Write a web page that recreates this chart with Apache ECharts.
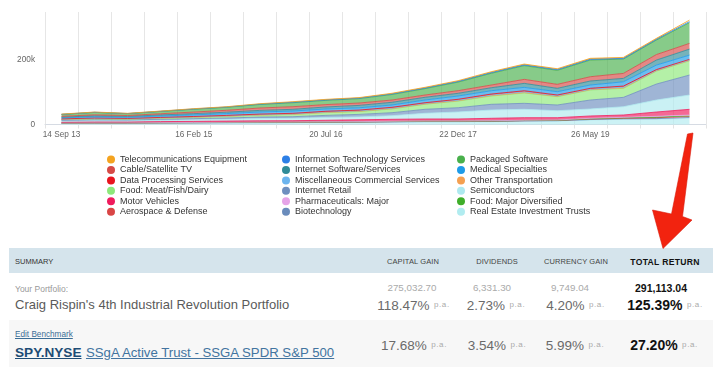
<!DOCTYPE html>
<html>
<head>
<meta charset="utf-8">
<script src="https://cdn.jsdelivr.net/npm/echarts@6/dist/echarts.min.js"></script>
<style>
  html, body { margin:0; padding:0; background:#fff; }
  body { width:720px; height:386px; position:relative; overflow:hidden;
         font-family:"Liberation Sans", Arial, Helvetica, sans-serif; }
  #chart { position:absolute; left:0; top:0; width:720px; height:386px; z-index:2; pointer-events:none; }
  .t { position:absolute; height:20px; line-height:20px; white-space:nowrap; }
  .c { text-align:center; width:120px; }
  .pa { font-size:8px; color:#aaa; letter-spacing:0.6px; vertical-align:3px; font-weight:normal; }
</style>
</head>
<body>
<div id="table"></div>
<div id="chart"></div>
<script>
// ---- chart data (values in thousands) ----
const periodDates = ['14 Sep 13','22 Jan 14','1 Jun 14','9 Oct 14','16 Feb 15','26 Jun 15','3 Nov 15','12 Mar 16','20 Jul 16','27 Nov 16','6 Apr 17','14 Aug 17','22 Dec 17','1 May 18','8 Sep 18','16 Jan 19','26 May 19','3 Oct 19','10 Feb 20','19 Jun 20'];
const tickLabels = ['14 Sep 13','16 Feb 15','20 Jul 16','22 Dec 17','26 May 19'];
const yTicks = [0, 200];

const telecomEquipment   = [0.6,0.6,0.6,0.6,0.9,0.9,1.2,1.6,1.6,1.6,1.9,2.2,2.2,2.5,2.5,2.5,2.8,2.8,2.8,4.6];
const itServices         = [0.6,0.6,0.6,0.6,0.9,0.9,1.2,1.6,1.6,1.6,1.9,1.9,2.2,2.5,2.5,2.5,2.5,2.5,2.5,3.1];
const packagedSoftware   = [5.6,7.4,5.6,7.1,8.7,9.3,10.9,12.4,13.0,13.6,17.1,19.8,26.7,36.3,42.5,43.4,51.8,44.3,45.0,64.5];
const cableSatellite     = [2.5,3.1,2.8,3.7,5.0,5.9,7.4,8.1,7.4,7.4,7.1,7.1,8.1,8.4,12.4,12.4,13.3,15.5,17.1,17.7];
const internetSoftware   = [2.5,3.1,2.8,3.4,3.7,4.3,5.0,5.3,6.2,7.4,8.4,8.4,8.4,9.3,12.4,10.5,12.4,10.5,15.5,18.6];
const medicalSpecialties = [3.1,3.7,3.4,4.3,5.0,5.6,6.5,7.1,7.1,7.1,7.1,8.4,10.2,10.2,10.5,10.2,10.2,13.3,14.0,13.3];
const dataProcessing     = [0.9,1.0,0.9,1.1,1.2,1.4,1.5,1.7,2.0,2.1,2.4,2.2,2.5,2.8,3.2,2.4,2.4,3.2,2.1,1.9];
const miscCommercial     = [0.6,0.8,0.6,0.9,1.0,1.1,1.2,1.3,1.5,1.6,1.8,1.7,2.0,2.2,2.5,1.8,1.8,2.5,1.6,1.5];
const otherTransport     = [0.4,0.4,0.4,0.5,0.6,0.6,0.7,0.7,0.9,0.9,1.1,1.0,1.1,1.2,1.4,1.1,1.1,1.4,0.9,0.9];
const foodMeat           = [2.5,3.1,2.8,3.4,4.0,5.0,5.9,6.8,8.4,8.7,11.5,15.5,20.5,25.7,31.9,25.7,31.0,27.9,40.3,44.3];
const internetRetail     = [2.5,3.1,2.8,3.1,3.4,4.0,4.7,5.0,6.5,7.8,9.3,12.4,13.3,17.7,18.6,17.7,27.9,29.1,49.6,62.0];
const semiconductors     = [3.1,3.7,3.4,4.0,5.0,5.6,6.8,7.4,8.7,9.0,11.2,17.7,21.7,25.7,26.0,21.7,21.7,25.7,37.2,44.3];
const motorVehicles      = [2.5,2.8,2.8,3.1,3.4,3.7,4.0,4.0,4.7,5.6,6.2,6.2,6.2,7.4,8.1,7.1,7.1,7.1,13.3,17.7];
const pharmaMajor        = [0.3,0.3,0.3,0.4,0.4,0.5,0.6,0.6,0.6,0.6,0.6,0.6,0.6,0.8,0.6,0.8,1.4,1.6,2.4,2.5];
const foodMajor          = [0.2,0.2,0.2,0.3,0.3,0.3,0.4,0.4,0.4,0.4,0.5,0.5,0.5,0.6,0.5,0.6,1.0,1.2,1.8,2.1];
const aerospaceDefense   = [0.4,0.4,0.4,0.5,0.5,0.6,0.7,0.7,0.7,0.7,0.8,0.8,0.8,0.9,0.8,0.9,1.6,1.9,2.8,3.1];
const biotechnology      = [0.3,0.3,0.3,0.4,0.4,0.5,0.5,0.5,0.5,0.5,0.6,0.6,0.6,0.8,0.6,0.8,1.3,1.5,2.3,2.5];
const reits              = [3.7,4.0,4.0,4.3,4.7,5.0,5.3,5.6,6.2,6.8,7.4,8.4,8.4,8.7,10.5,10.9,14.0,16.1,16.1,19.2];

// legend / stacking order (top of stack first)
const seriesNames = ['Telecommunications Equipment','Information Technology Services','Packaged Software','Cable/Satellite TV','Internet Software/Services','Medical Specialties','Data Processing Services','Miscellaneous Commercial Services','Other Transportation','Food: Meat/Fish/Dairy','Internet Retail','Semiconductors','Motor Vehicles','Pharmaceuticals: Major','Food: Major Diversified','Aerospace & Defense','Biotechnology','Real Estate Investment Trusts'];
const seriesValues = [telecomEquipment, itServices, packagedSoftware, cableSatellite, internetSoftware, medicalSpecialties, dataProcessing, miscCommercial, otherTransport, foodMeat, internetRetail, semiconductors, motorVehicles, pharmaMajor, foodMajor, aerospaceDefense, biotechnology, reits];

// ---- summary table data ----
const summaryColumns = ['CAPITAL GAIN','DIVIDENDS','CURRENCY GAIN','TOTAL RETURN'];
const portfolioAmounts = ['275,032.70','6,331.30','9,749.04','291,113.04'];
const portfolioPct = ['118.47%','2.73%','4.20%','125.39%'];
const benchmarkPct = ['17.68%','3.54%','5.99%','27.20%'];

// ---- styles ----
const seriesColors = ['#f4a31f','#2c7fe6','#49b04c','#d64a46','#2f8b98','#1e9be8','#e8141e','#6cb4ee','#f5a050','#8de87a','#6e8fbf','#aee9ef','#ef1b5c','#e6a4e8','#3fae2a','#d94545','#6a8cbc','#b1ecf0'];

// ---- HTML table ----
const T = document.getElementById('table');
function el(html, css, cls) {
  const d = document.createElement('div');
  d.className = 't ' + (cls || '');
  d.innerHTML = html;
  Object.assign(d.style, css);
  T.appendChild(d);
  return d;
}
function box(css) { const d = document.createElement('div'); d.style.position='absolute'; Object.assign(d.style, css); T.appendChild(d); }
box({left:'9px', top:'248px', width:'704px', height:'25px', background:'#d5e4ec'});
box({left:'9px', top:'320px', width:'704px', height:'47px', background:'#f7f7f7'});
el('SUMMARY', {left:'15px', top:'251.5px', fontSize:'7.5px', color:'#333'});
const colCx = [413, 497, 576, 665];
const amtCx = [412, 492, 570, 661];
summaryColumns.forEach((c, i) => {
  const bold = i === 3;
  el(c, {left:(colCx[i]-60)+'px', top:'251.5px', fontSize: bold ? '8.6px' : '7.5px',
         color: bold ? '#111' : '#444', fontWeight: bold ? 'bold' : 'normal', letterSpacing: bold ? '0.3px' : '0.1px'}, 'c');
});
el('Your Portfolio:', {left:'15px', top:'278.5px', fontSize:'8.5px', color:'#999'});
el('Craig Rispin\'s 4th Industrial Revolution Portfolio', {left:'15px', top:'295px', fontSize:'13px', color:'#5a5a5a'});
portfolioAmounts.forEach((a, i) => {
  const bold = i === 3;
  el(a, {left:(amtCx[i]-60)+'px', top:'278px', fontSize: bold ? '10.5px' : '9.8px',
         color: bold ? '#111' : '#aaa', fontWeight: bold ? 'bold' : 'normal'}, 'c');
});
function pctRow(arr, cy, cx) {
  arr.forEach((p, i) => {
    const bold = i === 3;
    el('<span style="font-size:' + (bold ? '14px' : '13.5px') + ';color:' + (bold ? '#111' : '#6a6a6a') + ';font-weight:' + (bold ? 'bold' : 'normal') + '">' + p + '</span> <span class="pa">p.a.</span>',
       {left:(cx[i]-60)+'px', top:(cy-10)+'px'}, 'c');
  });
}
pctRow(portfolioPct, 305, [413.5, 496, 575.5, 665]);
el('Edit Benchmark', {left:'15px', top:'324.5px', fontSize:'8.2px', color:'#3c6e96', textDecoration:'underline'});
el('<span style="font-weight:bold;font-size:13.6px;color:#1d4c75;text-decoration:underline">SPY.NYSE</span> <span style="font-size:13.2px;color:#4274a0;text-decoration:underline">SSgA Active Trust - SSGA SPDR S&amp;P 500</span>',
   {left:'15px', top:'341.5px'});
pctRow(benchmarkPct, 345, [414, 497, 575, 664]);

// ---- ECharts ----
const chart = echarts.init(document.getElementById('chart'), null, {renderer:'canvas'});
const series = [];
for (let i = seriesNames.length - 1; i >= 0; i--) {
  series.push({
    name: seriesNames[i], type: 'line', stack: 'total', data: seriesValues[i],
    showSymbol: false, symbol: 'none', smooth: false,
    itemStyle: {color: seriesColors[i]},
    lineStyle: {color: seriesColors[i], width: 0.8},
    areaStyle: {color: seriesColors[i], opacity: 0.66},
    emphasis: {disabled: true}, silent: true, animation: false
  });
}
const legendCols = [0,1,2].map(c => seriesNames.filter((n, i) => i % 3 === c));
const legendLeft = [107, 282, 457];
const legends = legendCols.map((names, c) => ({
  data: names, orient: 'vertical', left: legendLeft[c], top: 155, padding: 0,
  itemWidth: 8, itemHeight: 8, itemGap: 1.45, icon: 'circle', selectedMode: false,
  textStyle: {fontSize: 9, color: '#333', fontFamily: '"Liberation Sans", Arial, sans-serif', padding: 0}
}));

chart.setOption({
  animation: false,
  grid: {left: 45, right: 14, top: 12, bottom: 261.5, containLabel: false},
  legend: legends,
  xAxis: {
    type: 'category', data: periodDates, boundaryGap: true,
    axisLine: {show: true, lineStyle: {color: '#d6dbe3', width: 1}},
    axisTick: {show: true, interval: 0, length: 4, lineStyle: {color: '#e3e3e3'}},
    splitLine: {show: true, interval: 0, lineStyle: {color: '#e6e6e6', width: 1}},
    axisLabel: {
      interval: (idx, val) => tickLabels.includes(val),
      fontSize: 8.25, color: '#666', margin: 6,
      fontFamily: '"Liberation Sans", Arial, sans-serif'
    }
  },
  yAxis: {
    type: 'value', min: yTicks[0], max: 349, interval: yTicks[1] - yTicks[0],
    axisLine: {show: false}, axisTick: {show: false}, splitLine: {show: false},
    axisLabel: {
      showMaxLabel: false, margin: 10, fontSize: 8.25, color: '#666',
      fontFamily: '"Liberation Sans", Arial, sans-serif',
      formatter: v => yTicks.includes(v) ? (v === 0 ? '0' : v + 'k') : ''
    }
  },
  series: series,
  graphic: [{
    type: 'polygon', z: 100, silent: true,
    shape: {points: [[687.5,134],[693,133],[682.5,216.5],[692,220],[663,248.5],[652.5,210],[671.5,214]]},
    style: {fill: '#f2230f', stroke: '#d81a0a', lineWidth: 0.6}
  }]
});
</script>
</body>
</html>
